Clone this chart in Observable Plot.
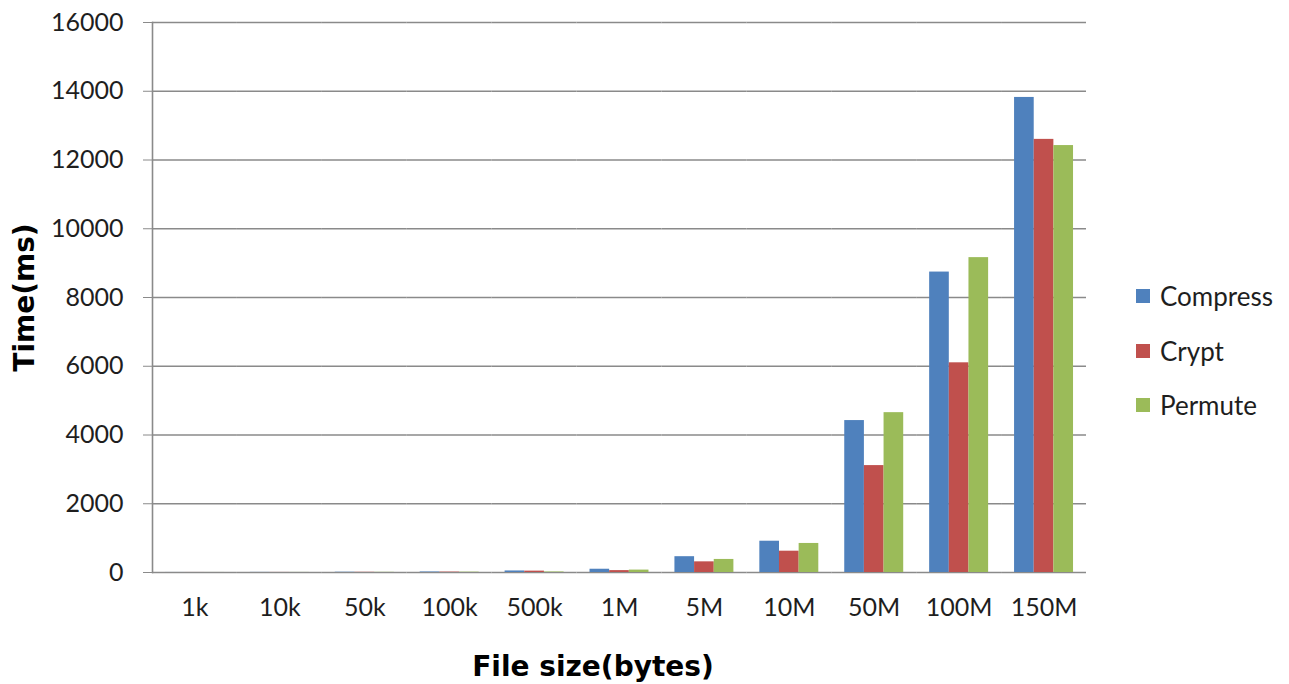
<!DOCTYPE html>
<html>
<head>
<meta charset="utf-8">
<script src="https://cdn.jsdelivr.net/npm/d3@7"></script>
<script src="https://cdn.jsdelivr.net/npm/@observablehq/plot@0.6"></script>
<style>
  body { margin: 0; background: #fff; }
  #chart { position: relative; width: 1289px; height: 684px; }
  .legend { position: absolute; left: 1136px; top: 269px; font-family: Lato, sans-serif; font-size: 26px; color: #1e1e1e; }
  .legend .row { display: flex; align-items: center; height: 54.5px; }
  .legend .sw { width: 14px; height: 14px; margin-right: 10px; }
  .xtitle { position: absolute; left: 393px; width: 400px; top: 650px; text-align: center; font-family: "DejaVu Sans", sans-serif; font-weight: bold; font-size: 28px; color: #000; white-space: nowrap; }
</style>
</head>
<body>
<div id="chart"></div>
<script>
// File sizes tested and processing time (ms) per operation
const sizes = ["1k", "10k", "50k", "100k", "500k", "1M", "5M", "10M", "50M", "100M", "150M"];
const series = ["Compress", "Crypt", "Permute"];
const compress = [1, 3, 8, 15, 45, 95, 460, 910, 4420, 8740, 13820];
const crypt    = [1, 2, 6, 12, 40, 55, 310, 620, 3110, 6100, 12600];
const permute  = [1, 2, 5, 10, 15, 70, 380, 845, 4650, 9160, 12420];
const colors = ["#4F81BD", "#C0504D", "#9BBB59"];
const yTicks = [0, 2000, 4000, 6000, 8000, 10000, 12000, 14000, 16000];
const xTitle = "File size(bytes)";
const yTitle = "Time(ms)";

const values = [compress, crypt, permute];
const rows = sizes.flatMap((s, i) => series.map((name, j) => ({ size: s, series: name, time: values[j][i] })));

const grey = "#8a8a8a";
const ink = "#1e1e1e";

const chart = Plot.plot({
  width: 1289,
  height: 684,
  marginLeft: 152,
  marginRight: 203,
  marginTop: 22,
  marginBottom: 112,
  style: { fontFamily: "Lato, sans-serif", fontSize: "25px", color: ink, background: "#fff" },
  fx: { domain: sizes, padding: 0, round: false, label: null },
  x: { domain: series, paddingInner: 0, paddingOuter: 0.66, round: false, axis: null },
  y: { domain: [0, 16000] },
  color: { domain: series, range: colors },
  marks: [
    Plot.ruleY(yTicks, { stroke: grey, strokeWidth: 1.6 }),
    Plot.barY(rows, { fx: "size", x: "series", y: "time", fill: "series" }),
    Plot.frame({ anchor: "left", facetAnchor: "left", stroke: grey, strokeWidth: 1.6 }),
    Plot.axisY({ ticks: yTicks, tickSize: 9, tickPadding: 20, tickFormat: d => String(d), label: null, stroke: grey, fill: ink, fontSize: 25 }),
    Plot.axisY({ ticks: [], label: yTitle, labelAnchor: "center", labelArrow: "none", labelOffset: 138, fontFamily: "DejaVu Sans, sans-serif", fontWeight: "bold", fontSize: 28, fill: "#000" }),
    Plot.axisFx({ anchor: "bottom", tickSize: 0, tickPadding: 26, label: null, fill: ink, fontSize: 25 })
  ]
});

const root = document.getElementById("chart");
root.appendChild(chart);

// Horizontal axis title below the plot
const title = document.createElement("div");
title.className = "xtitle";
title.textContent = xTitle;
root.appendChild(title);

// Legend to the right of the plot
const legend = document.createElement("div");
legend.className = "legend";
series.forEach((name, j) => {
  const row = document.createElement("div");
  row.className = "row";
  const sw = document.createElement("span");
  sw.className = "sw";
  sw.style.background = colors[j];
  const label = document.createElement("span");
  label.textContent = name;
  row.append(sw, label);
  legend.appendChild(row);
});
root.appendChild(legend);
</script>
</body>
</html>
